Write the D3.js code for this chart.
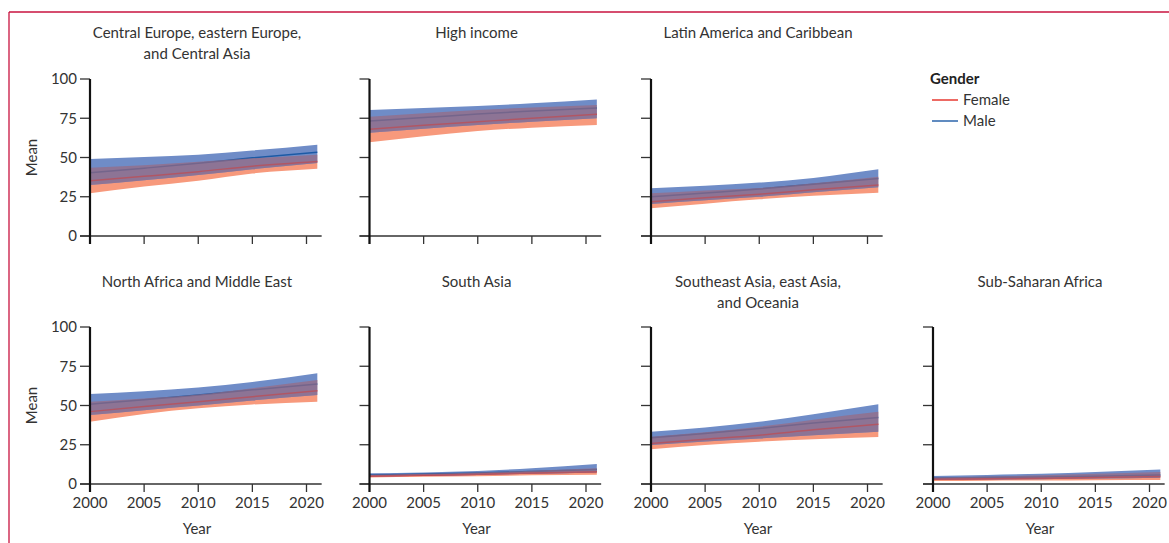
<!DOCTYPE html>
<html>
<head>
<meta charset="utf-8">
<script src="https://cdn.jsdelivr.net/npm/d3@7"></script>
<style>
  body { margin: 0; background: #fff; }
  text { font-family: Lato, "Open Sans", sans-serif; fill: #333; }
</style>
</head>
<body>
<script>
// years
var years = [2000, 2005, 2010, 2015, 2021];
var xTicks = [2000, 2005, 2010, 2015, 2020];
var yTicks = [0, 25, 50, 75, 100];

var regionTitles = [
  ["Central Europe, eastern Europe,", "and Central Asia"],
  ["High income"],
  ["Latin America and Caribbean"],
  ["North Africa and Middle East"],
  ["South Asia"],
  ["Southeast Asia, east Asia,", "and Oceania"],
  ["Sub-Saharan Africa"]
];

// one row per region, same order as regionTitles
var maleMean = [
  [40.3, 43.2, 46.3, 49.8, 53.3],
  [73.2, 75.4, 77.7, 79.6, 81.5],
  [25.0, 27.4, 29.9, 33.0, 36.7],
  [50.8, 53.7, 56.7, 60.0, 63.7],
  [5.7, 6.3, 7.0, 8.0, 9.3],
  [29.4, 32.2, 35.4, 38.8, 42.4],
  [3.6, 4.1, 4.5, 5.0, 5.7]
];
var maleLower = [
  [32.5, 35.5, 38.8, 42.5, 46.5],
  [65.8, 68.3, 70.7, 72.8, 75.0],
  [20.4, 22.8, 25.0, 27.8, 31.0],
  [43.9, 47.0, 50.0, 53.2, 56.7],
  [4.7, 5.2, 5.8, 6.5, 7.4],
  [24.8, 27.0, 29.0, 31.0, 33.3],
  [2.5, 2.8, 3.1, 3.5, 4.0]
];
var maleUpper = [
  [49.0, 50.3, 51.8, 54.5, 58.2],
  [80.3, 81.5, 82.8, 84.6, 87.0],
  [30.4, 32.0, 34.0, 37.0, 42.5],
  [57.3, 59.0, 61.4, 65.0, 70.5],
  [6.8, 7.4, 8.3, 10.0, 12.7],
  [33.3, 36.0, 39.6, 44.5, 50.8],
  [5.1, 5.8, 6.5, 7.7, 9.3]
];
var femaleMean = [
  [35.2, 38.0, 41.0, 44.5, 47.5],
  [68.0, 70.6, 72.8, 75.0, 77.5],
  [21.8, 24.3, 26.6, 29.4, 32.5],
  [46.1, 49.4, 52.4, 55.6, 59.4],
  [5.1, 5.6, 6.2, 7.0, 7.8],
  [25.8, 28.5, 31.1, 34.5, 38.1],
  [3.0, 3.3, 3.7, 4.2, 4.7]
];
var femaleLower = [
  [27.2, 31.5, 35.2, 39.8, 42.8],
  [59.7, 63.6, 66.9, 69.0, 70.7],
  [17.6, 20.6, 23.4, 25.6, 27.6],
  [39.7, 44.6, 48.2, 50.6, 52.4],
  [4.2, 4.6, 5.0, 5.5, 5.9],
  [22.2, 24.8, 26.9, 28.5, 30.0],
  [1.9, 2.1, 2.2, 2.4, 2.5]
];
var femaleUpper = [
  [43.5, 45.0, 47.3, 49.5, 51.8],
  [76.0, 78.2, 80.3, 81.8, 83.4],
  [27.2, 29.0, 30.6, 33.6, 37.8],
  [52.4, 54.5, 57.0, 61.0, 66.2],
  [5.9, 6.5, 7.3, 8.5, 10.0],
  [30.1, 33.0, 36.5, 41.0, 46.0],
  [4.2, 4.8, 5.5, 6.5, 7.7]
];

var genders = ["Female", "Male"];

var ctx = {
  w: 1169,
  h: 543,
  colX: [90, 369.5, 651, 933],
  rowY: [79, 327],
  plotH: 157,
  fontSize: "15px",
  femaleBand: "#f7997c",
  maleBand: "#6f8cc7",
  overlap: "#9a6a80",
  femaleLine: "#e62a22",
  maleLine: "#1c5aa5",
  border: "#c8133f"
};

var svg = d3.select("body").append("svg")
  .attr("width", ctx.w)
  .attr("height", ctx.h);

// frame lines round the figure
svg.append("line").attr("x1", 9).attr("x2", ctx.w).attr("y1", 12).attr("y2", 12)
  .attr("stroke", ctx.border).attr("stroke-width", 1.3);
svg.append("line").attr("x1", 9).attr("x2", 9).attr("y1", 12).attr("y2", ctx.h)
  .attr("stroke", ctx.border).attr("stroke-width", 1.3);

var x = d3.scaleLinear().domain([2000, 2020]).range([0, 216.5]);
var y = d3.scaleLinear().domain([0, 100]).range([ctx.plotH, 0]);

// panel slots: row, column
var slots = [[0, 0], [0, 1], [0, 2], [1, 0], [1, 1], [1, 2], [1, 3]];

function band(lo, hi) {
  return d3.area()
    .curve(d3.curveMonotoneX)
    .x(function(d, i) { return x(years[i]); })
    .y0(function(d, i) { return y(lo[i]); })
    .y1(function(d, i) { return y(hi[i]); })(years);
}

function line(vals) {
  return d3.line()
    .curve(d3.curveMonotoneX)
    .x(function(d, i) { return x(years[i]); })
    .y(function(d, i) { return y(vals[i]); })(years);
}

function drawPanel(r) {
  var row = slots[r][0], col = slots[r][1];
  var g = svg.append("g")
    .attr("transform", "translate(" + ctx.colX[col] + "," + ctx.rowY[row] + ")");

  // title
  var t = g.append("text")
    .attr("x", 107)
    .attr("y", row === 0 ? -41 : -40)
    .attr("text-anchor", "middle")
    .style("font-size", ctx.fontSize);
  regionTitles[r].forEach(function(s, k) {
    t.append("tspan").attr("x", 107).attr("dy", k === 0 ? 0 : 20.5).text(s);
  });

  // bands
  var fArea = band(femaleLower[r], femaleUpper[r]);
  var mArea = band(maleLower[r], maleUpper[r]);
  g.append("clipPath").attr("id", "clipF" + r).append("path").attr("d", fArea);

  g.append("path").attr("d", fArea).attr("fill", ctx.femaleBand);
  g.append("path").attr("d", mArea).attr("fill", ctx.maleBand);

  g.append("path").attr("d", line(maleMean[r]))
    .attr("fill", "none").attr("stroke", ctx.maleLine).attr("stroke-width", 1.5);
  g.append("path").attr("d", line(femaleMean[r]))
    .attr("fill", "none").attr("stroke", ctx.femaleLine).attr("stroke-width", 1.5);

  g.append("path").attr("d", mArea)
    .attr("clip-path", "url(#clipF" + r + ")")
    .attr("fill", ctx.overlap).attr("fill-opacity", 0.7);

  // x axis
  var xa = g.append("g").attr("transform", "translate(0," + ctx.plotH + ")");
  xa.append("line").attr("x1", -10).attr("x2", x(2021.4)).attr("y1", 0).attr("y2", 0)
    .attr("stroke", "#333").attr("stroke-width", 1.3);
  xTicks.forEach(function(v) {
    xa.append("line").attr("x1", x(v)).attr("x2", x(v)).attr("y1", 0).attr("y2", 8)
      .attr("stroke", "#333").attr("stroke-width", 1.3);
    if (row === 1) {
      xa.append("text").attr("x", x(v)).attr("y", 19).attr("dy", "0.35em")
        .attr("text-anchor", "middle").style("font-size", ctx.fontSize).text(v);
    }
  });
  if (row === 1) {
    xa.append("text").attr("x", 107).attr("y", 45).attr("dy", "0.35em")
      .attr("text-anchor", "middle").style("font-size", ctx.fontSize).text("Year");
  }

  // y axis
  var ya = g.append("g");
  yTicks.forEach(function(v) {
    ya.append("line").attr("x1", -10).attr("x2", 0).attr("y1", y(v)).attr("y2", y(v))
      .attr("stroke", "#333").attr("stroke-width", 1.3);
    if (col === 0) {
      ya.append("text").attr("x", -13).attr("y", y(v)).attr("dy", "0.35em")
        .attr("text-anchor", "end").style("font-size", ctx.fontSize).text(v);
    }
  });
  ya.append("line").attr("x1", 0).attr("x2", 0).attr("y1", 0).attr("y2", ctx.plotH + 8)
    .attr("stroke", "#111").attr("stroke-width", 2.2);
  if (col === 0) {
    ya.append("text")
      .attr("transform", "translate(-53," + (ctx.plotH / 2) + ") rotate(-90)")
      .attr("text-anchor", "middle").style("font-size", ctx.fontSize).text("Mean");
  }
}

for (var r = 0; r < regionTitles.length; r++) {
  drawPanel(r);
}

// legend
var lg = svg.append("g").attr("transform", "translate(930,79)");
lg.append("text").attr("x", 0).attr("y", 0).attr("dy", "0.35em")
  .style("font-size", ctx.fontSize).style("font-weight", "bold").style("fill", "#222").text("Gender");
var legendColors = [ctx.femaleLine, ctx.maleLine];
genders.forEach(function(gd, i) {
  var yy = 21 + i * 21;
  lg.append("line").attr("x1", 2).attr("x2", 28).attr("y1", yy).attr("y2", yy)
    .attr("stroke", legendColors[i]).attr("stroke-width", 1.4);
  lg.append("text").attr("x", 33).attr("y", yy).attr("dy", "0.35em")
    .style("font-size", ctx.fontSize).text(gd);
});
</script>
</body>
</html>
